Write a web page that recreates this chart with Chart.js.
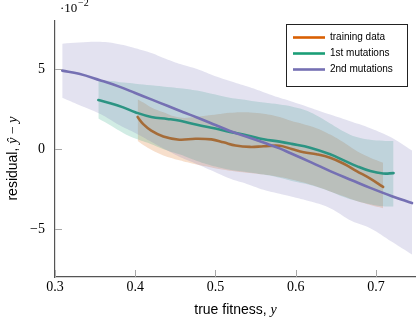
<!DOCTYPE html>
<html><head><meta charset="utf-8">
<script src="https://cdn.jsdelivr.net/npm/chart.js@4.4.1/dist/chart.umd.min.js"></script>
<style>html,body{margin:0;padding:0;background:#fff;}#wrap{width:416px;height:322px;}</style>
</head><body><div id="wrap"><canvas id="c" width="416" height="322"></canvas></div>
<script>
// ---- data (residual values in units of 1e-2) ----
const seriesNames = ['training data', '1st mutations', '2nd mutations'];
const xTicks = [0.3, 0.4, 0.5, 0.6, 0.7];
const yTicks = [-5, 0, 5];

const trainX     = [0.403,0.41,0.42,0.435,0.455,0.475,0.495,0.51,0.525,0.543,0.56,0.58,0.595,0.61,0.626,0.643,0.66,0.676,0.693,0.709];
const trainMean  = [2.0,1.55,1.15,0.78,0.58,0.64,0.60,0.42,0.22,0.13,0.17,0.2,0.0,-0.2,-0.33,-0.55,-0.92,-1.38,-1.85,-2.37];
const trainUpper = [3.1,2.9,2.6,2.3,1.97,2.0,2.12,2.22,2.28,2.28,2.2,2.0,1.75,1.55,1.3,0.9,0.4,-0.13,-0.55,-0.86];
const trainLower = [0.5,0.25,-0.05,-0.4,-0.7,-0.95,-1.15,-1.3,-1.4,-1.5,-1.6,-1.75,-1.9,-2.1,-2.35,-2.65,-2.95,-3.25,-3.5,-3.7];

const mut1X     = [0.354,0.37,0.385,0.4,0.42,0.44,0.456,0.477,0.5,0.518,0.54,0.56,0.58,0.595,0.618,0.643,0.66,0.676,0.693,0.709,0.722];
const mut1Mean  = [3.06,2.85,2.6,2.3,2.0,1.88,1.76,1.51,1.28,1.07,0.85,0.61,0.46,0.32,0.08,-0.33,-0.71,-1.07,-1.38,-1.53,-1.51];
const mut1Upper = [4.3,4.25,4.15,4.08,3.98,3.88,3.8,3.65,3.4,3.2,3.05,2.9,2.78,2.65,2.3,1.6,1.1,0.75,0.58,0.52,0.5];
const mut1Lower = [1.9,1.45,1.0,0.65,0.3,-0.1,-0.35,-0.75,-1.1,-1.3,-1.45,-1.6,-1.8,-2.0,-2.25,-2.65,-3.0,-3.25,-3.45,-3.58,-3.6];

const mut2X     = [0.309,0.33,0.356,0.38,0.4,0.42,0.44,0.46,0.477,0.5,0.518,0.54,0.56,0.58,0.593,0.62,0.643,0.67,0.693,0.72,0.745];
const mut2Mean  = [4.9,4.7,4.3,3.9,3.5,3.1,2.7,2.3,1.97,1.5,1.13,0.75,0.4,0.04,-0.25,-0.85,-1.38,-1.95,-2.43,-2.95,-3.38];
const mut2Upper = [6.58,6.65,6.7,6.55,6.3,6.0,5.6,5.25,5.0,4.55,4.25,3.9,3.55,3.2,3.0,2.55,2.15,1.7,1.3,0.7,-0.1];
const mut2Lower = [3.2,2.75,2.2,1.5,1.0,0.45,-0.1,-0.6,-0.95,-1.45,-1.85,-2.2,-2.55,-2.8,-2.95,-3.3,-3.7,-4.5,-4.95,-5.8,-6.6];

// ---- styling ----
const colors = [[217,95,2],[27,158,119],[117,112,179]];
const rgb = (c, a) => `rgba(${c[0]},${c[1]},${c[2]},${a})`;
const pts = (xs, ys) => xs.map((x, i) => ({x: x, y: ys[i]}));

const groups = [
  [trainX, trainMean, trainUpper, trainLower],
  [mut1X, mut1Mean, mut1Upper, mut1Lower],
  [mut2X, mut2Mean, mut2Upper, mut2Lower]
];

const datasets = [];
groups.forEach((g, k) => {
  const base = (3 - k) * 3;
  datasets.push({label: seriesNames[k] + ' lower', data: pts(g[0], g[3]), borderWidth: 0, borderColor: 'rgba(0,0,0,0)', pointRadius: 0, fill: false, tension: 0.4, order: base + 2, isBand: true});
  datasets.push({label: seriesNames[k] + ' upper', data: pts(g[0], g[2]), borderWidth: 0, borderColor: 'rgba(0,0,0,0)', pointRadius: 0, fill: '-1', backgroundColor: rgb(colors[k], 0.2), tension: 0.4, order: base + 1, isBand: true});
  datasets.push({label: seriesNames[k], data: pts(g[0], g[1]), borderWidth: 2.6, borderColor: rgb(colors[k], 1), pointRadius: 0, fill: false, tension: 0.4, order: base, borderCapStyle: 'round', borderJoinStyle: 'round', colorIdx: k});
});

const SANS = '"Liberation Sans", Arial, sans-serif';
const SERIF = '"Liberation Serif", "Times New Roman", serif';

function drawRich(ctx, parts, x, y) {
  let total = 0;
  parts.forEach(p => { ctx.font = p[1]; p.w = ctx.measureText(p[0]).width; total += p.w; });
  let cx = x - total / 2;
  parts.forEach(p => { ctx.font = p[1]; ctx.fillText(p[0], cx, y); cx += p.w; });
}

const decor = {
  id: 'decor',
  afterDraw(chart) {
    const ctx = chart.ctx;
    const xs = chart.scales.x, ys = chart.scales.y;
    const area = chart.chartArea;
    ctx.save();
    // inward tick marks
    ctx.strokeStyle = '#a8a8a8';
    ctx.lineWidth = 1;
    xTicks.forEach(v => {
      const px = Math.round(xs.getPixelForValue(v)) + 0.5;
      ctx.beginPath(); ctx.moveTo(px, area.bottom); ctx.lineTo(px, area.bottom - 7); ctx.stroke();
    });
    yTicks.forEach(v => {
      const py = Math.round(ys.getPixelForValue(v)) + 0.5;
      ctx.beginPath(); ctx.moveTo(area.left, py); ctx.lineTo(area.left + 7, py); ctx.stroke();
    });
    ctx.fillStyle = '#000';
    ctx.textAlign = 'left';
    ctx.textBaseline = 'alphabetic';
    // x title
    drawRich(ctx, [['true fitness, ', '14px ' + SANS], ['y', 'italic 14px ' + SERIF]], (area.left + area.right) / 2, 314);
    // y title
    ctx.save();
    ctx.translate(17, 158.5);
    ctx.rotate(-Math.PI / 2);
    drawRich(ctx, [['residual, ', '14px ' + SANS], ['\u0177', 'italic 14px ' + SERIF], [' \u2212 ', '14px ' + SERIF], ['y', 'italic 14px ' + SERIF]], 0, 0);
    ctx.restore();
    // multiplier
    ctx.font = '13px ' + SERIF;
    ctx.fillText('\u00b710', 60, 12);
    ctx.font = '10px ' + SERIF;
    ctx.fillText('\u22122', 78, 6);
    // legend
    const L = {x: 286.5, y: 24.5, w: 121, h: 62};
    ctx.fillStyle = '#fff';
    ctx.fillRect(L.x, L.y, L.w, L.h);
    ctx.strokeStyle = '#222';
    ctx.lineWidth = 1;
    ctx.strokeRect(L.x, L.y, L.w, L.h);
    ctx.textBaseline = 'middle';
    ctx.font = '10px ' + SANS;
    seriesNames.forEach((n, i) => {
      const yy = 37.5 + i * 16;
      ctx.strokeStyle = rgb(colors[i], 1);
      ctx.lineWidth = 2.6;
      ctx.beginPath(); ctx.moveTo(293, yy); ctx.lineTo(325, yy); ctx.stroke();
      ctx.fillStyle = '#000';
      ctx.fillText(n, 330, yy);
    });
    ctx.restore();
  }
};

new Chart(document.getElementById('c'), {
  type: 'line',
  data: {datasets: datasets},
  options: {
    responsive: false,
    devicePixelRatio: 1,
    animation: false,
    layout: {padding: {left: 0, right: 0, top: 21, bottom: 0}},
    plugins: {legend: {display: false}, tooltip: {enabled: false}, filler: {propagate: false}},
    scales: {
      x: {
        type: 'linear', min: 0.3, max: 0.75,
        afterBuildTicks: s => { s.ticks = xTicks.map(v => ({value: v})); },
        afterFit: s => { s.height = 45; },
        grid: {display: false, drawTicks: false},
        border: {display: true, color: '#555', width: 1.2},
        ticks: {font: {family: SERIF, size: 14}, color: '#000', padding: 2, maxRotation: 0, autoSkip: false, callback: v => Number(v).toFixed(1)}
      },
      y: {
        type: 'linear', min: -8, max: 8,
        afterBuildTicks: s => { s.ticks = yTicks.map(v => ({value: v})); },
        afterFit: s => { s.width = 55; },
        grid: {display: false, drawTicks: false},
        border: {display: true, color: '#555', width: 1.2},
        ticks: {font: {family: SERIF, size: 14}, color: '#000', padding: 10, autoSkip: false, callback: v => v < 0 ? '\u2212' + Math.abs(v) : String(v)}
      }
    }
  },
  plugins: [decor]
});
</script>
</body></html>
